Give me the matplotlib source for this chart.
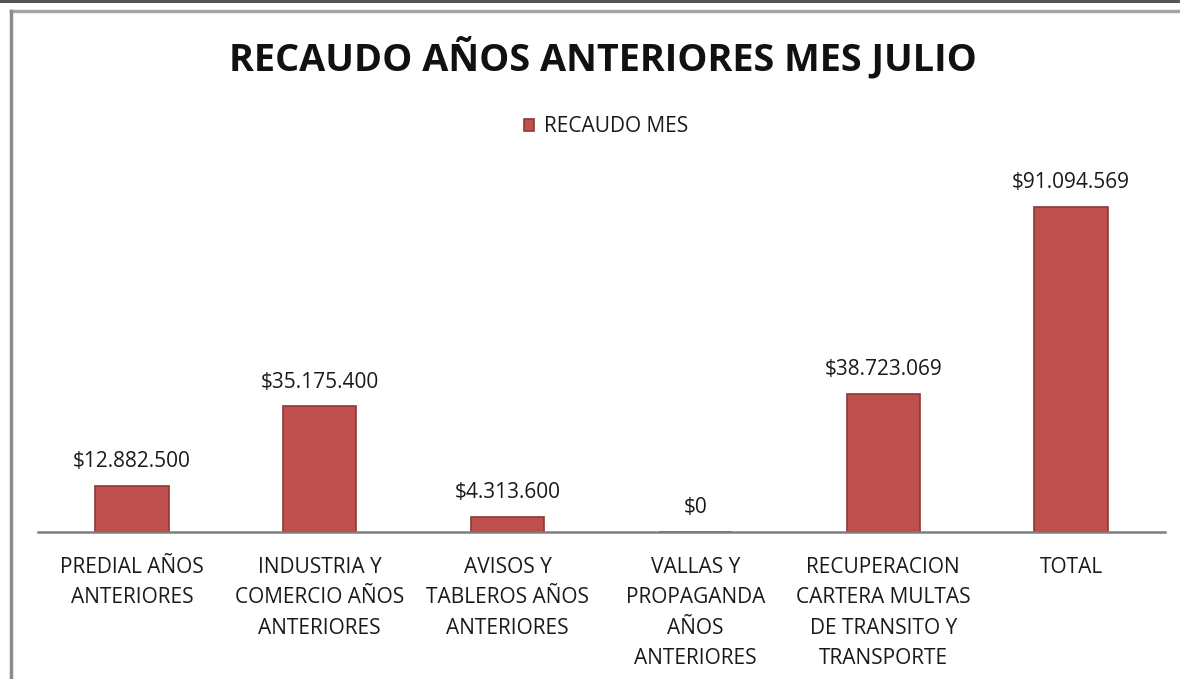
import matplotlib
matplotlib.use("Agg")
import matplotlib.pyplot as plt
from matplotlib.lines import Line2D

categories = [
    "PREDIAL AÑOS\nANTERIORES",
    "INDUSTRIA Y\nCOMERCIO AÑOS\nANTERIORES",
    "AVISOS Y\nTABLEROS AÑOS\nANTERIORES",
    "VALLAS Y\nPROPAGANDA\nAÑOS\nANTERIORES",
    "RECUPERACION\nCARTERA MULTAS\nDE TRANSITO Y\nTRANSPORTE",
    "TOTAL",
]
recaudo_mes = [12882500, 35175400, 4313600, 0, 38723069, 91094569]
value_labels = ["$12.882.500", "$35.175.400", "$4.313.600", "$0",
                "$38.723.069", "$91.094.569"]

FONT = "Open Sans"
BAR_COLOR = "#C0504D"
EDGE_COLOR = "#8C3836"
TEXT_COLOR = "#1a1a1a"

W, H = 1180, 679
fig = plt.figure(figsize=(W / 100, H / 100), dpi=100)
fig.patch.set_facecolor("white")

def fx(px):
    return px / W

def fy(py):
    return 1 - py / H

ax = fig.add_axes([fx(38), fy(532), fx(1165) - fx(38), fy(175) - fy(532)])
x = list(range(len(categories)))
bars = ax.bar(x, recaudo_mes, width=0.39, color=BAR_COLOR,
              edgecolor=EDGE_COLOR, linewidth=1.2, label="RECAUDO MES", zorder=2)
ax.set_xlim(-0.5, len(categories) - 0.5)
ax.set_ylim(0, 100_000_000)

for rect, lab in zip(bars, value_labels):
    ax.annotate(lab, (rect.get_x() + rect.get_width() / 2, rect.get_height()),
                xytext=(0, 10), textcoords="offset points", ha="center",
                va="bottom", fontsize=15, family=FONT, color=TEXT_COLOR)

ax.set_xticks(x)
ax.set_xticklabels(categories, fontsize=15, family=FONT, color=TEXT_COLOR,
                   linespacing=1.58)
ax.tick_params(axis="x", length=0, pad=18)
ax.set_yticks([])
for side in ("left", "right", "top"):
    ax.spines[side].set_visible(False)
ax.spines["bottom"].set_color("#7f7f7f")
ax.spines["bottom"].set_linewidth(1.8)
ax.set_facecolor("none")

fig.text(fx(603), fy(58), "RECAUDO AÑOS ANTERIORES MES JULIO",
         ha="center", va="center", fontsize=27.3, fontweight="bold",
         family=FONT, color="#111111")

leg = fig.legend(handles=[bars], labels=["RECAUDO MES"], loc="center",
                 bbox_to_anchor=(fx(606), fy(127)), frameon=False,
                 handlelength=0.5, handleheight=0.5, handletextpad=0.45,
                 prop={"family": FONT, "size": 15})
for t in leg.get_texts():
    t.set_color(TEXT_COLOR)

# chart frame
fig.add_artist(Line2D([0, 1], [fy(1), fy(1)], color="#555555", lw=2.2))
fig.add_artist(Line2D([fx(11), 1], [fy(11), fy(11)], color="#a6a6a6", lw=2.5))
fig.add_artist(Line2D([fx(11), fx(11)], [fy(11), 0], color="#8c8c8c", lw=2.5))

fig.savefig("out.png", dpi=100, facecolor="white")
